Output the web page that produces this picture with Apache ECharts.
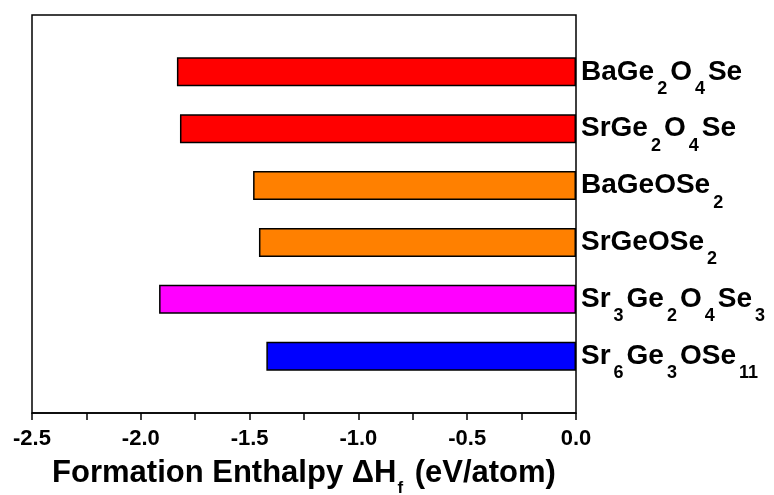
<!DOCTYPE html>
<html><head><meta charset="utf-8">
<script src="https://cdn.jsdelivr.net/npm/echarts@6/dist/echarts.min.js"></script>
<style>html,body{margin:0;padding:0;background:#fff}#c{width:774px;height:495px}</style>
</head><body><div id="c"></div>
<script>
// compounds top to bottom, with rich-text subscripts
const compounds = ['BaGe{s|2}O{s|4}Se', 'SrGe{s|2}O{s|4}Se', 'BaGeOSe{s|2}', 'SrGeOSe{s|2}', 'Sr{s|3}Ge{s|2}O{s|4}Se{s|3}', 'Sr{s|6}Ge{s|3}OSe{s|11}'];
const enthalpy = [-1.834, -1.82, -1.484, -1.457, -1.916, -1.423];
const barColors = ['#FF0000', '#FF0000', '#FF8000', '#FF8000', '#FF00FF', '#0000FF'];
const xTicks = [-2.5, -2.0, -1.5, -1.0, -0.5, 0.0];

// category axis bottom-to-top with empty padding slots at both ends
const cats = [''].concat(compounds.slice().reverse()).concat(['']);
const vals = [null].concat(enthalpy.slice().reverse()).concat([null]);
const cols = [null].concat(barColors.slice().reverse()).concat([null]);

const wrapMain = v => v.replace(/(^|\})([^{}]+)(?=\{|$)/g, (m, p, t) => p + '{m|' + t + '}');

const chart = echarts.init(document.getElementById('c'), null, {renderer: 'canvas'});
const FONT = '"Liberation Sans", Arial, sans-serif';
chart.setOption({
  animation: false,
  grid: {left: 32, right: 198, top: 15, bottom: 82, show: true, borderColor: '#000', borderWidth: 1.5,
    backgroundColor: 'transparent', containLabel: false, outerBoundsMode: 'none'},
  xAxis: {
    type: 'value', min: xTicks[0], max: xTicks[xTicks.length - 1], interval: 0.5,
    axisLine: {show: true, lineStyle: {color: '#000', width: 1.5}},
    axisTick: {show: true, inside: false, length: 7, lineStyle: {color: '#000', width: 1.5}},
    minorTick: {show: true, splitNumber: 2, length: 7, lineStyle: {color: '#000', width: 1.5}},
    splitLine: {show: false},
    axisLabel: {color: '#000', fontFamily: FONT, fontWeight: 'bold', fontSize: 22, margin: 15,
      formatter: v => v.toFixed(1)},
    name: wrapMain('Formation Enthalpy ΔH{f|f} (eV/atom)'), nameLocation: 'middle', nameGap: 45,
    nameTextStyle: {color: '#000', fontFamily: FONT, fontWeight: 'bold', fontSize: 31,
      rich: {
        m: {fontFamily: FONT, fontWeight: 'bold', fontSize: 31, color: '#000', lineHeight: 31, verticalAlign: 'top'},
        f: {fontFamily: FONT, fontWeight: 'bold', fontSize: 17, color: '#000', lineHeight: 17, verticalAlign: 'top', padding: [22, 3, 0, 1]}
      }}
  },
  yAxis: {
    type: 'category', data: cats, boundaryGap: false, position: 'right',
    axisLine: {show: false}, axisTick: {show: false}, splitLine: {show: false},
    axisLabel: {
      margin: 5,
      formatter: v => v === '' ? '' : wrapMain(v),
      rich: {
        m: {fontFamily: FONT, fontWeight: 'bold', fontSize: 28, color: '#000', lineHeight: 28, verticalAlign: 'top'},
        s: {fontFamily: FONT, fontWeight: 'bold', fontSize: 18, color: '#000', lineHeight: 18, verticalAlign: 'top', padding: [22, 3, 0, 3]}
      }
    }
  },
  series: [{
    type: 'bar', barWidth: 29,
    data: vals.map((v, i) => v === null ? null : {value: v, itemStyle: {color: cols[i]}}),
    itemStyle: {borderColor: '#000', borderWidth: 1.5}
  }]
});
</script></body></html>
